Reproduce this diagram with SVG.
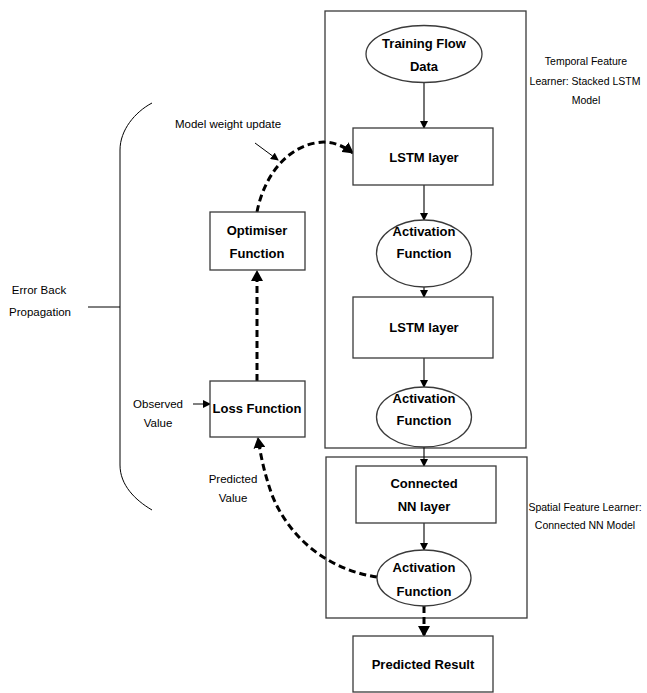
<svg xmlns="http://www.w3.org/2000/svg" width="647" height="693" viewBox="0 0 647 693">
<style>
.box{fill:#fff;stroke:#3a3a3a;stroke-width:1.3}
.frame{fill:none;stroke:#3a3a3a;stroke-width:1.3}
.t{font-family:"Liberation Sans",Arial,sans-serif;font-size:13px;font-weight:bold;fill:#000;text-anchor:middle}
.s{font-family:"Liberation Sans",Arial,sans-serif;font-size:11.5px;fill:#000;text-anchor:middle}
.r{font-family:"Liberation Sans",Arial,sans-serif;font-size:10.5px;fill:#000;text-anchor:middle}
.solid{fill:none;stroke:#000;stroke-width:1.1}
.dash{fill:none;stroke:#000;stroke-width:3;stroke-dasharray:7,4}
.thin{fill:none;stroke:#000;stroke-width:1}
</style>
<defs>
<marker id="ah" markerWidth="8" markerHeight="8" refX="7" refY="4" orient="auto" markerUnits="userSpaceOnUse">
<path d="M0,0 L8,4 L0,8 z" fill="#000"/>
</marker>
<marker id="ahd" markerWidth="12" markerHeight="12" refX="10" refY="6" orient="auto" markerUnits="userSpaceOnUse">
<path d="M0,0 L11,6 L0,12 z" fill="#000"/>
</marker>
</defs>
<rect width="647" height="693" fill="#fff"/>

<g id="temporal-frame">
<rect class="frame" x="325" y="11" width="201" height="437"/>
<text class="r" x="586" y="65">Temporal Feature</text>
<text class="r" x="585" y="85">Learner: Stacked LSTM</text>
<text class="r" x="586" y="104">Model</text>
</g>
<g id="spatial-frame">
<rect class="frame" x="326" y="457" width="201" height="161"/>
<text class="r" x="585" y="511">Spatial Feature Learner:</text>
<text class="r" x="585" y="529">Connected NN Model</text>
</g>

<g id="connectors">
<line class="solid" x1="424" y1="82" x2="424" y2="128" marker-end="url(#ah)"/>
<line class="solid" x1="424" y1="185" x2="424" y2="220" marker-end="url(#ah)"/>
<line class="solid" x1="424" y1="287" x2="424" y2="297" marker-end="url(#ah)"/>
<line class="solid" x1="424" y1="358" x2="424" y2="387" marker-end="url(#ah)"/>
<line class="solid" x1="424" y1="447" x2="424" y2="466" marker-end="url(#ah)"/>
<line class="solid" x1="424" y1="523" x2="424" y2="550" marker-end="url(#ah)"/>
<line class="dash" x1="424" y1="606" x2="424" y2="636" marker-end="url(#ahd)"/>
<line class="dash" x1="257" y1="381" x2="257" y2="271" marker-end="url(#ahd)"/>
<path class="dash" d="M257,212 C262,185 280,150 315,143 C330,140 342,145 353,153" marker-end="url(#ahd)"/>
<path class="dash" d="M377,577 C330,570 290,540 272,495 C265,475 261,458 258,438" marker-end="url(#ahd)"/>
<line class="thin" x1="255" y1="143" x2="278" y2="160" marker-end="url(#ah)"/>
<line class="thin" x1="193" y1="404" x2="210" y2="404" marker-end="url(#ah)"/>
<path class="thin" d="M152,103 C135,112 120,130 120,150 L120,465 C120,485 135,500 152,510"/>
<line class="thin" x1="88" y1="307" x2="120" y2="307"/>
</g>

<g id="training-data">
<ellipse class="box" cx="424" cy="54" rx="58" ry="28.5"/>
<text class="t" x="424" y="48">Training Flow</text>
<text class="t" x="424" y="71">Data</text>
</g>
<g id="lstm1">
<rect class="box" x="353" y="128" width="140" height="57"/>
<text class="t" x="424" y="162">LSTM layer</text>
</g>
<g id="activation1">
<ellipse class="box" cx="424" cy="253.5" rx="47.5" ry="33.5"/>
<text class="t" x="424" y="236">Activation</text>
<text class="t" x="424" y="258">Function</text>
</g>
<g id="lstm2">
<rect class="box" x="353" y="297" width="140" height="61"/>
<text class="t" x="424" y="332">LSTM layer</text>
</g>
<g id="activation2">
<ellipse class="box" cx="424" cy="417" rx="47.5" ry="30"/>
<text class="t" x="424" y="403">Activation</text>
<text class="t" x="424" y="425">Function</text>
</g>
<g id="connected-nn">
<rect class="box" x="356" y="466" width="140" height="57"/>
<text class="t" x="424" y="488">Connected</text>
<text class="t" x="424" y="511">NN layer</text>
</g>
<g id="activation3">
<ellipse class="box" cx="424" cy="578" rx="47" ry="28"/>
<text class="t" x="424" y="572">Activation</text>
<text class="t" x="424" y="596">Function</text>
</g>
<g id="predicted-result">
<rect class="box" x="353" y="636" width="140" height="56"/>
<text class="t" x="423" y="669">Predicted Result</text>
</g>
<g id="optimiser">
<rect class="box" x="210" y="212" width="95" height="58"/>
<text class="t" x="257" y="235">Optimiser</text>
<text class="t" x="257" y="258">Function</text>
</g>
<g id="loss">
<rect class="box" x="210" y="381" width="95" height="56"/>
<text class="t" x="257" y="413">Loss Function</text>
</g>

<g id="labels">
<text class="s" x="228" y="128">Model weight update</text>
<text class="s" x="39" y="294">Error Back</text>
<text class="s" x="40" y="316">Propagation</text>
<text class="s" x="158" y="408">Observed</text>
<text class="s" x="158" y="427">Value</text>
<text class="s" x="233" y="483">Predicted</text>
<text class="s" x="233" y="502">Value</text>
</g>
</svg>
